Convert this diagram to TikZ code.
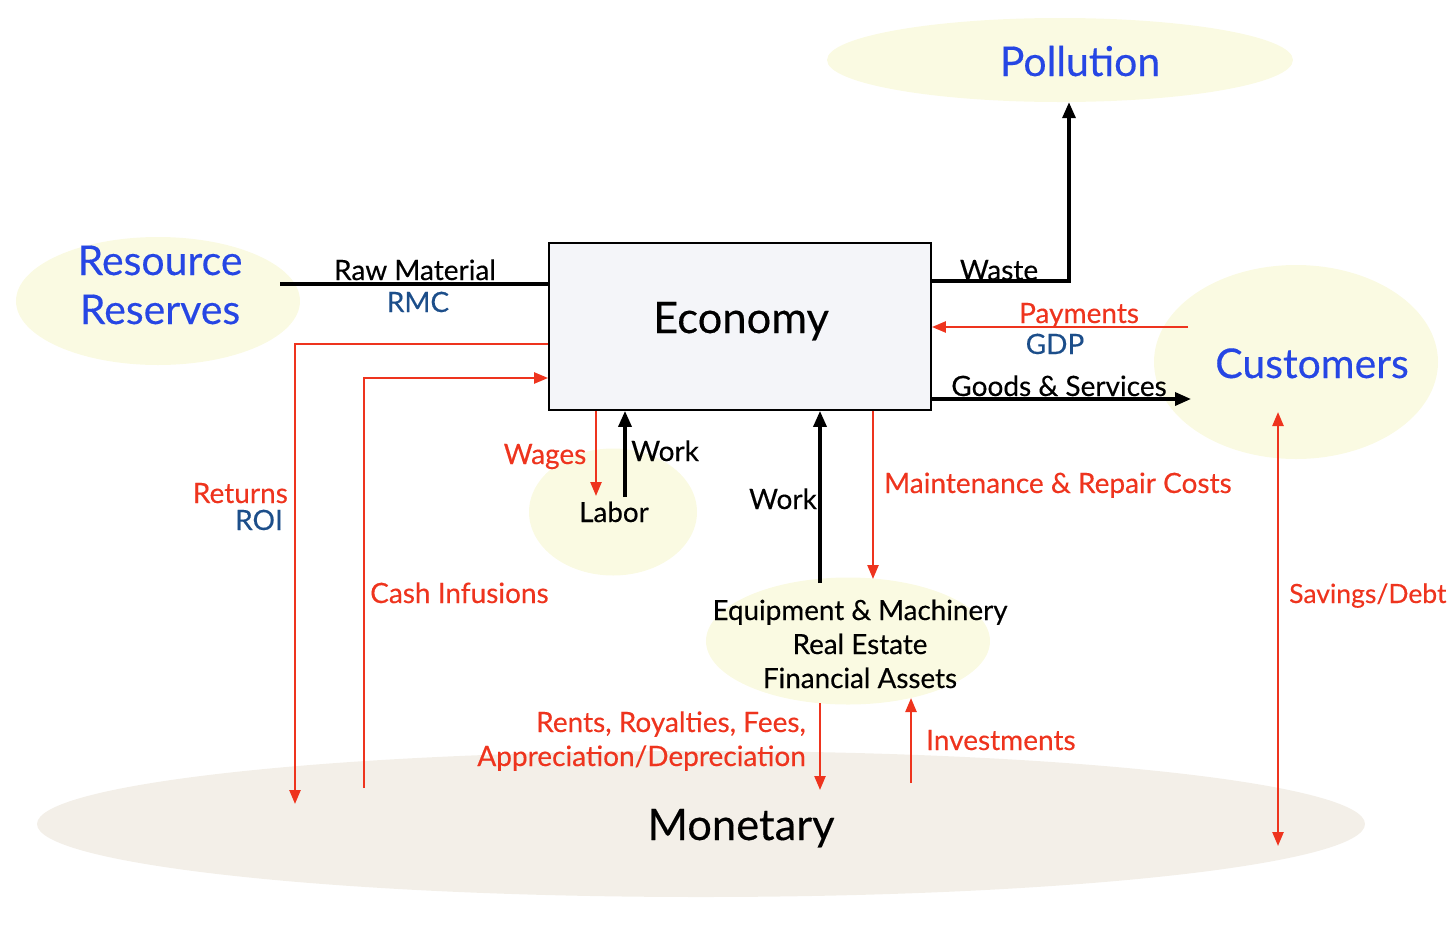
\documentclass[tikz,border=0pt]{standalone}
\usepackage{fontspec}
\setmainfont{Lato}[FakeBold=0.3]
\usetikzlibrary{shapes.geometric,arrows.meta}
\definecolor{cred}{RGB}{238,52,30}
\definecolor{cblue}{RGB}{38,70,228}
\definecolor{cdblue}{RGB}{28,78,138}
\definecolor{cyel}{RGB}{250,250,226}
\definecolor{cmon}{RGB}{243,239,232}
\definecolor{ceco}{RGB}{244,245,249}
\tikzset{
  blob/.style={ellipse,fill=cyel,inner sep=0pt},
  blk/.style={line width=3.4pt,black},
  blkarr/.style={blk,-{Triangle[length=16pt,width=13pt]}},
  redl/.style={line width=2.4pt,cred},
  redarr/.style={redl,-{Triangle[length=14pt,width=11pt]}},
  title/.style={text=cblue,font=\fontsize{41}{46}\selectfont,inner sep=0pt},
  lbl/.style={font=\fontsize{28}{32}\selectfont,inner sep=0pt},
  rlbl/.style={lbl,text=cred},
  blbl/.style={lbl,text=cdblue},
  inner/.style={font=\fontsize{27.8}{32}\selectfont,inner sep=0pt},
}
\begin{document}
\begin{tikzpicture}[x=1pt,y=-1pt]
\useasboundingbox (0,0) rectangle (1456,924);
% ellipses
\node[ellipse,fill=cmon,minimum width=1328,minimum height=146] (mon) at (701,824) {};
\node[blob,minimum width=466,minimum height=84] (pol) at (1060,60) {};
\node[blob,minimum width=284,minimum height=128] (rr) at (158,301) {};
\node[blob,minimum width=284,minimum height=194] (cus) at (1296,362) {};
\node[blob,minimum width=168,minimum height=127] (lab) at (613,512) {};
\node[blob,minimum width=284,minimum height=127] (ast) at (848,641) {};
% economy box
\node[draw=black,line width=1.8pt,fill=ceco,minimum width=382,minimum height=167,inner sep=0pt] (eco) at (740,326.5) {};
% titles
\node[title,anchor=base] (tpol) at (1080,76) {Pollution};
\node[title,anchor=base] (trr1) at (160,275) {Resource};
\node[title,anchor=base] (trr2) at (160,324) {Reserves};
\node[title,anchor=base] (tcus) at (1312,378) {Customers};
\node[font=\fontsize{43.5}{48}\selectfont,inner sep=0pt,anchor=base] (teco) at (741,333) {Economy};
\node[font=\fontsize{43.5}{48}\selectfont,inner sep=0pt,anchor=base] (tmon) at (741,840) {Monetary};
\node[inner,anchor=base] (tlab) at (614,522) {Labor};
\node[inner,anchor=base] (ta1) at (860,620) {Equipment \& Machinery};
\node[inner,anchor=base] (ta2) at (860,654) {Real Estate};
\node[inner,anchor=base] (ta3) at (860,688) {Financial Assets};
% coordinates
\coordinate (rawS) at (280,284);
\coordinate (wasteC) at (1069,281);
\coordinate (payS) at (1188,327);
\coordinate (gsE) at (1191,399);
\coordinate (retC) at (295,344);
\coordinate (retE) at (295,804);
\coordinate (cashS) at (364,788);
\coordinate (cashC) at (364,378);
\coordinate (wagE) at (596,496);
\coordinate (wrkS) at (625,497);
\coordinate (wrk2S) at (820,583);
\coordinate (mntE) at (873,579);
\coordinate (rntS) at (820,703);
\coordinate (rntE) at (820,790);
\coordinate (invS) at (911,783);
\coordinate (invE) at (911,698);
\coordinate (svT) at (1278,412);
\coordinate (svB) at (1278,846);
% connectors
\draw[blk] (rawS) -- (eco.west |- rawS);
\draw[blkarr] (eco.east |- wasteC) -- (wasteC) -- (wasteC |- pol.south);
\draw[redarr] (payS) -- (eco.east |- payS);
\draw[blkarr] (eco.east |- gsE) -- (gsE);
\draw[redarr] (eco.west |- retC) -- (retC) -- (retE);
\draw[redarr] (cashS) -- (cashC) -- (eco.west |- cashC);
\draw[redarr] (eco.south -| wagE) -- (wagE);
\draw[blkarr] (wrkS) -- (eco.south -| wrkS);
\draw[blkarr] (wrk2S) -- (eco.south -| wrk2S);
\draw[redarr] (eco.south -| mntE) -- (mntE);
\draw[redarr] (rntS) -- (rntE);
\draw[redarr] (invS) -- (invE);
\draw[redl,{Triangle[length=14pt,width=11pt]}-{Triangle[length=14pt,width=11pt]}] (svT) -- (svB);
% labels
\node[lbl,anchor=base] (lraw) at (415,280) {Raw Material};
\node[blbl,anchor=base] (lrmc) at (418,312) {RMC};
\node[lbl,anchor=base] (lwaste) at (999,280) {Waste};
\node[rlbl,anchor=base] (lpay) at (1079,323) {Payments};
\node[blbl,anchor=base] (lgdp) at (1055,354) {GDP};
\node[lbl,anchor=base] (lgs) at (1059,396) {Goods \& Services};
\node[rlbl,anchor=base east] (lret) at (288,503) {Returns};
\node[blbl,anchor=base east] (lroi) at (283,530) {ROI};
\node[rlbl,anchor=base west] (lcash) at (370,603) {Cash Infusions};
\node[rlbl,anchor=base] (lwag) at (545,464) {Wages};
\node[lbl,anchor=base west] (lwrk) at (631,461) {Work};
\node[lbl,anchor=base east] (lwrk2) at (817,509) {Work};
\node[rlbl,anchor=base west] (lmnt) at (884,493) {Maintenance \& Repair Costs};
\node[rlbl,anchor=base east] (lrn1) at (806,732) {Rents, Royalties, Fees,};
\node[rlbl,anchor=base east] (lrn2) at (806,766) {Appreciation/Depreciation};
\node[rlbl,anchor=base west] (linv) at (926,750) {Investments};
\node[rlbl,anchor=base west,font=\fontsize{26.5}{30}\selectfont] (lsav) at (1289,603) {Savings/Debt};
\end{tikzpicture}
\end{document}
